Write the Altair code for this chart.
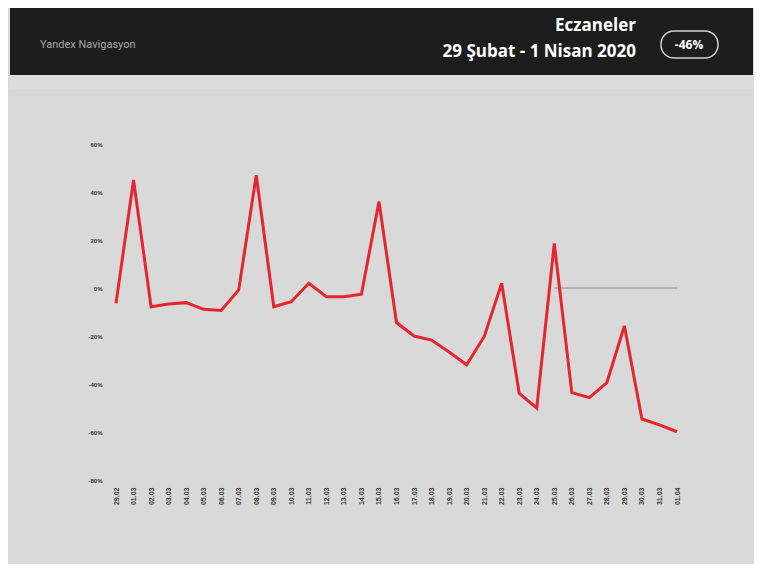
import altair as alt
import pandas as pd

dates = ["29.02", "01.03", "02.03", "03.03", "04.03", "05.03", "06.03", "07.03",
         "08.03", "09.03", "10.03", "11.03", "12.03", "13.03", "14.03", "15.03",
         "16.03", "17.03", "18.03", "19.03", "20.03", "21.03", "22.03", "23.03",
         "24.03", "25.03", "26.03", "27.03", "28.03", "29.03", "30.03", "31.03",
         "01.04"]
values = [-6.4, 45, -7.8, -6.7, -6.1, -8.9, -9.4, -0.8, 47, -7.8, -5.7, 2,
          -3.6, -3.6, -2.6, 36, -14.4, -20, -21.7, -26.7, -32, -20.3, 2, -43.9,
          -50, 18.6, -43.6, -45.7, -39.4, -15.8, -54.6, -57, -59.9]
y_ticks = [60, 40, 20, 0, -20, -40, -60, -80]
title_main = "Eczaneler"
title_sub = "29 Şubat - 1 Nisan 2020"
brand = "Yandex Navigasyon"
badge = "-46%"

df = pd.DataFrame({"idx": list(range(len(dates))), "date": dates, "value": values})
rule_df = pd.DataFrame({"start": [25], "end": [len(dates) - 1], "zero": [0]})
one = pd.DataFrame({"a": [0]})

W, H = 561, 336

label_arr = "[" + ",".join("'" + d + "'" for d in dates) + "]"
x_scale = alt.Scale(domain=[0, len(dates) - 1], nice=False, zero=False)
y_scale = alt.Scale(domain=[-80, 60], nice=False, zero=False)
x_axis = alt.Axis(title=None, values=list(range(len(dates))),
                  labelExpr=label_arr + "[datum.value]",
                  labelAngle=270, labelFontSize=7,
                  labelColor="#3a3a3a", labelFontWeight="bold",
                  labelPadding=7, ticks=False, domain=False, grid=False,
                  labelAlign="right", labelBaseline="middle",
                  labelOverlap=False, labelFlush=False)
y_axis = alt.Axis(title=None, values=y_ticks, labelExpr="datum.value + '%'",
                  labelFontSize=6, labelFontWeight="bold", labelColor="#333",
                  labelPadding=14, ticks=False, domain=False, grid=False,
                  labelOverlap=False)

line = alt.Chart(df).mark_line(color="#e52630", strokeWidth=3, strokeJoin="miter").encode(
    x=alt.X("idx:Q", scale=x_scale, axis=x_axis),
    y=alt.Y("value:Q", scale=y_scale, axis=y_axis),
)

zero_rule = alt.Chart(rule_df).mark_rule(color="#8c8c8c", strokeWidth=1).encode(
    x=alt.X("start:Q", scale=x_scale, axis=x_axis),
    x2="end:Q",
    y=alt.Y("zero:Q", scale=y_scale, axis=y_axis),
)

header = alt.Chart(one).mark_rect(color="#1d1d1d", clip=False).encode(
    x=alt.value(-106), x2=alt.value(637), y=alt.value(-136), y2=alt.value(-69)
)
band = alt.Chart(one).mark_rect(color="#dddddd", clip=False).encode(
    x=alt.value(-106), x2=alt.value(637), y=alt.value(-69), y2=alt.value(-55)
)
pill = alt.Chart(one).mark_rect(fill="#1d1d1d", stroke="#cfcfcf", strokeWidth=1.5,
                                cornerRadius=13, clip=False).encode(
    x=alt.value(545), x2=alt.value(602), y=alt.value(-113), y2=alt.value(-86)
)
brand_t = alt.Chart(one).mark_text(text=brand, font="Roboto", fontSize=11,
                                   color="#a8a8a8", align="left", baseline="middle",
                                   clip=False).encode(x=alt.value(-76), y=alt.value(-99))
main_t = alt.Chart(one).mark_text(text=title_main, font="Open Sans", fontWeight="bold",
                                  fontSize=17, color="white", align="right",
                                  baseline="alphabetic", clip=False).encode(
    x=alt.value(520), y=alt.value(-113))
sub_t = alt.Chart(one).mark_text(text=title_sub, font="Open Sans", fontWeight="bold",
                                 fontSize=17, color="white", align="right",
                                 baseline="alphabetic", clip=False).encode(
    x=alt.value(520), y=alt.value(-87))
badge_t = alt.Chart(one).mark_text(text=badge, font="Open Sans", fontWeight="bold",
                                   fontSize=12, color="white", align="center",
                                   baseline="middle", clip=False).encode(
    x=alt.value(573), y=alt.value(-99))

chart = alt.layer(header, band, pill, brand_t, main_t, sub_t, badge_t, zero_rule, line).properties(
    width=W, height=H,
    autosize=alt.AutoSizeParams(type="none"),
    padding={"left": 108, "top": 136, "right": 77, "bottom": 84},
    background="#d9d9d9",
).configure_view(stroke=None)

chart.save("out.html", embed_options={"renderer": "svg", "actions": False})
